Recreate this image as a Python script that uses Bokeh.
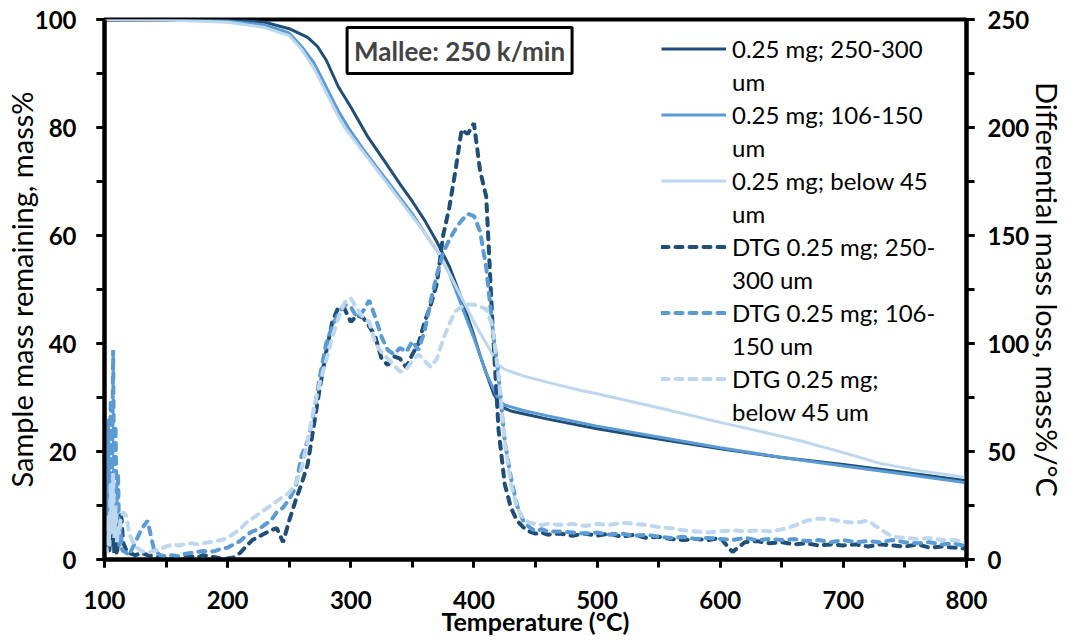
from bokeh.plotting import figure
from bokeh.models import (Range1d, LinearAxis, SingleIntervalTicker, Legend, LegendItem, Label)
from bokeh.embed import file_html
from bokeh.resources import INLINE

# ---------------- data ----------------
# TG curves (left axis, mass %)
tg_dark_t = [100, 150, 200, 230, 250, 265, 273, 280, 290, 300, 314, 327, 340, 350, 360, 370, 380, 390, 400, 405, 410, 416, 422, 430, 440, 460, 500, 550, 600, 650, 700, 750, 800]
tg_dark_m = [100, 100, 100, 99.5, 98.3, 96.7, 95, 92.5, 87.5, 83.8, 78.2, 73.9, 69.5, 66.3, 62.8, 58.8, 54.3, 48.3, 41.5, 37.8, 34.5, 30.7, 28.3, 27.5, 27, 26, 24.2, 22.3, 20.5, 18.9, 17.6, 16.1, 14.6]
tg_med_t = [100, 150, 200, 230, 250, 260, 270, 280, 290, 298, 310, 320, 330, 340, 350, 360, 370, 380, 390, 400, 410, 420, 425, 440, 460, 500, 550, 600, 650, 700, 750, 800]
tg_med_m = [100, 100, 99.7, 99, 97.5, 95, 92, 87.5, 83, 80, 76, 73, 70, 67, 64, 60.5, 57.2, 53, 47, 41, 34.5, 29.5, 28.6, 27.6, 26.6, 24.7, 22.7, 20.7, 18.9, 17.3, 15.8, 14.2]
tg_light_t = [100, 150, 200, 230, 250, 260, 270, 280, 290, 295, 310, 320, 330, 340, 350, 360, 370, 380, 390, 400, 410, 420, 425, 440, 460, 487, 500, 550, 600, 650, 665, 700, 730, 760, 800]
tg_light_m = [100, 99.9, 99.5, 98.5, 97, 94.5, 91, 86.5, 82, 80, 75.5, 72.5, 69.5, 66.5, 63.5, 60.5, 57.3, 53, 48.5, 44, 40, 36, 35.2, 34, 32.8, 31.3, 30.7, 28.1, 25.4, 22.8, 22, 19.8, 17.8, 16.5, 15.2]

# DTG curves (right axis, mass%/°C)
dtg_t = ([100, 101, 102, 103, 104, 105, 106, 107, 108, 109, 110, 111, 112, 113, 114, 115, 118]
         + list(range(120, 461, 5)) + list(range(470, 801, 10)))
dtg_dark = [5, 12, 3, 18, 4, 25, 6, 15, 3, 10, 2, 8, 15, 22, 18, 8, 4,
            3, 2, 3, 2, 1.5, 1, 0.8, 1, 0.5, 1, 1.5, 1, 2, 1.5, 1, 0.5, 0.5, 1, 3, 6, 9, 10.5, 12, 13.5, 14.5, 8,
            18, 27, 35, 44, 62, 80, 96, 110, 117, 116, 110, 113, 112, 108, 103, 93, 90, 94, 93, 89, 95, 100, 110, 118,
            128, 150, 163, 180, 199, 197, 202, 180, 168, 110, 60, 35, 24, 18, 15, 13, 12, 12.5, 11.5,
            12, 11, 12, 11, 12, 10.5, 11.5, 10, 10.5, 9.5, 9, 9.5, 9, 10, 3.5, 8, 8.5, 7.5, 8, 7, 7.5, 6.5, 7, 6.5,
            7, 6, 7, 6.5, 6, 7, 5.5, 6, 5.5, 5]
dtg_med = [10, 45, 8, 65, 15, 74, 25, 97, 20, 62, 12, 40, 6, 15, 5, 4, 3,
           2, 8, 14, 18, 5, 2, 1.5, 2, 1.5, 2.5, 3, 3.5, 4, 3.5, 4, 5, 5.5, 7, 8.5, 11, 13, 14, 16, 18, 22, 24,
           28, 33, 48, 55, 68, 85, 100, 108, 114, 118, 117, 112, 115, 120, 112, 103, 97, 95, 98, 96, 101, 97, 106, 120,
           132, 142, 148, 153, 157, 160, 159, 152, 135, 108, 85, 55, 38, 25, 18, 15, 13, 14, 13,
           13, 12.5, 12, 12.5, 11.5, 12, 11, 11.5, 10.5, 10, 10.5, 9.5, 10, 9.5, 9, 10, 9, 9.5, 9, 9.5, 8.5, 9, 8, 9,
           8, 8.5, 8, 9, 8, 7.5, 8, 7, 7.5, 6]
dtg_light = [2, 10, 3, 20, 6, 35, 12, 40, 10, 25, 8, 15, 12, 18, 20, 22, 20,
             12, 6, 4, 3, 4, 5, 6, 7, 6.5, 7, 7.5, 7, 7.5, 8, 8.5, 9, 10, 12, 14, 17, 19, 21, 23, 25, 27, 29,
             31, 35, 42, 55, 70, 82, 92, 103, 112, 119, 121, 116, 112, 110, 100, 96, 93, 90, 87, 88, 92, 95, 92, 89,
             93, 102, 109, 115, 117, 118, 118, 117, 116, 108, 85, 55, 35, 24, 19, 17, 16.5, 16, 16.5,
             16, 16.5, 15.5, 16.5, 16, 17, 16.5, 16, 15, 14.5, 13.5, 13, 12.5, 13, 13.5, 13, 13.5, 13, 14, 15.5, 18, 19, 18.5, 17.5,
             17, 18, 14, 10.5, 10, 9.5, 10, 9, 9, 8]

# legend text: first line of each entry, and its wrapped continuation
legend_first = ["0.25 mg; 250-300", "0.25 mg; 106-150", "0.25 mg; below 45",
                "DTG 0.25 mg; 250-", "DTG 0.25 mg; 106-", "DTG 0.25 mg;"]
legend_second = ["um", "um", "um", "300 um", "150 um", "below 45 um"]

DARK = "#1F4E79"
MED = "#5B9BD5"
LIGHT = "#BDD7EE"
FONT = "Lato"

p = figure(width=1068, height=642, output_backend="svg", toolbar_location=None,
           x_range=Range1d(100, 800), y_range=Range1d(0, 100),
           min_border_left=103, min_border_right=101, min_border_top=19, min_border_bottom=83)
p.extra_y_ranges = {"dtg": Range1d(0, 250)}
p.xgrid.visible = False
p.ygrid.visible = False
p.outline_line_color = "black"
p.outline_line_width = 4
p.background_fill_color = "white"

r1 = p.line(tg_dark_t, tg_dark_m, line_color=DARK, line_width=3)
r2 = p.line(tg_med_t, tg_med_m, line_color=MED, line_width=3)
r3 = p.line(tg_light_t, tg_light_m, line_color=LIGHT, line_width=3)
dash = "7 7"
r4 = p.line(dtg_t, dtg_dark, line_color=DARK, line_width=4, line_dash=dash, line_cap="round", y_range_name="dtg")
r5 = p.line(dtg_t, dtg_med, line_color=MED, line_width=4, line_dash=dash, line_cap="round", y_range_name="dtg")
r6 = p.line(dtg_t, dtg_light, line_color=LIGHT, line_width=4, line_dash=dash, line_cap="round", y_range_name="dtg")
# invisible renderer used for the wrapped second line of each legend entry
blank = p.line([], [], line_alpha=0)

def style_axis(ax, interval):
    ax.ticker = SingleIntervalTicker(interval=interval, num_minor_ticks=2)
    ax.axis_line_width = 4
    ax.axis_line_color = "black"
    ax.major_tick_in = 0
    ax.major_tick_out = 8
    ax.minor_tick_in = 0
    ax.minor_tick_out = 8
    ax.major_tick_line_width = 3
    ax.minor_tick_line_width = 3
    ax.major_tick_line_color = "black"
    ax.minor_tick_line_color = "black"
    ax.major_label_text_font = FONT
    ax.major_label_text_font_size = "24px"
    ax.major_label_text_font_style = "bold"
    ax.major_label_text_color = "black"
    ax.axis_label_text_font = FONT
    ax.axis_label_text_color = "black"

xa = p.xaxis[0]
style_axis(xa, 100)
xa.axis_label = "Temperature (°C)"
xa.axis_label_text_font_size = "25px"
xa.axis_label_text_font_style = "bold"
xa.major_label_standoff = 23
xa.axis_label_standoff = -6

ya = p.yaxis[0]
style_axis(ya, 20)
ya.axis_label = "Sample mass remaining, mass%"
ya.axis_label_text_font_size = "29px"
ya.axis_label_text_font_style = "normal"
ya.major_label_standoff = 20
ya.axis_label_standoff = -7

ra = LinearAxis(y_range_name="dtg", axis_label="Differential mass loss, mass%/°C")
style_axis(ra, 50)
ra.major_label_standoff = 13
ra.axis_label_text_font_size = "29px"
ra.axis_label_text_font_style = "normal"
ra.axis_label_standoff = -2
p.add_layout(ra, "right")

items = []
for first, second, r in zip(legend_first, legend_second, [r1, r2, r3, r4, r5, r6]):
    items.append(LegendItem(label=first, renderers=[r]))
    items.append(LegendItem(label=second, renderers=[blank]))
legend = Legend(items=items, location=(557, 131), padding=0, margin=0, spacing=0,
                glyph_width=65, glyph_height=33, label_height=33, label_standoff=6,
                label_text_font=FONT, label_text_font_size="24px",
                label_text_color="black", background_fill_alpha=0, border_line_alpha=0)
p.add_layout(legend)

title_box = Label(x=297, y=98.5, text="Mallee: 250 k/min", text_font=FONT, text_font_size="26px",
                  text_font_style="bold", text_align="left", text_baseline="top",
                  padding=7, border_line_color="black", border_line_width=3,
                  background_fill_color="white")
p.add_layout(title_box)

open("out.html", "w").write(file_html(p, INLINE))
